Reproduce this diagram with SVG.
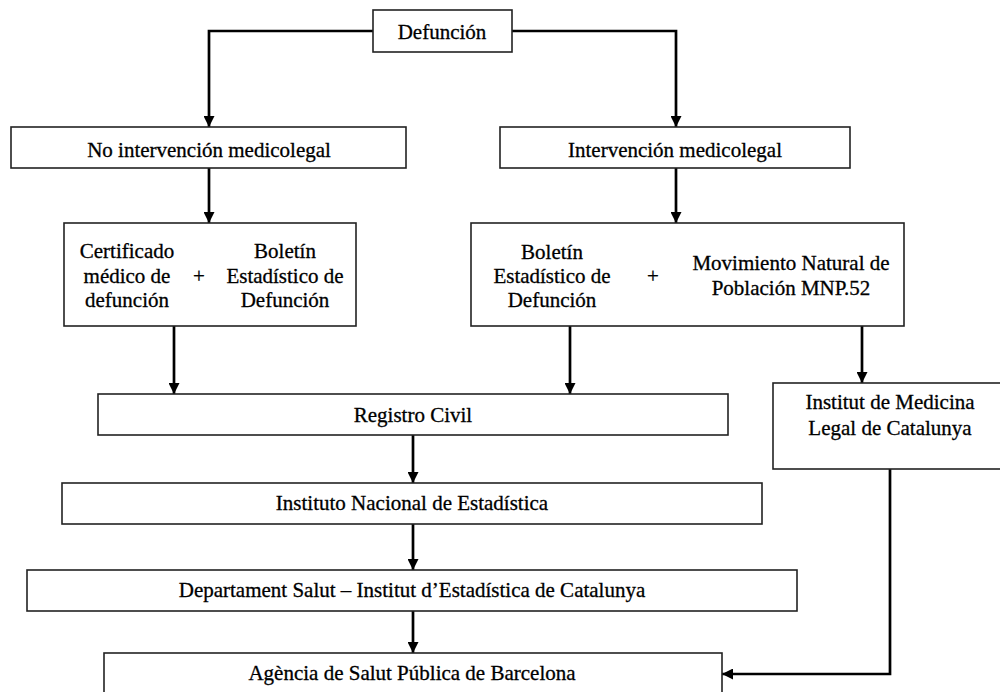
<svg xmlns="http://www.w3.org/2000/svg" width="1000" height="692" viewBox="0 0 1000 692">
<style>
.box{fill:#fff;stroke:#222;stroke-width:1.6}
.t{font-family:"Liberation Serif","Times New Roman",serif;font-size:21px;fill:#000;stroke:#000;stroke-width:0.3;text-anchor:middle}
.c{fill:none;stroke:#000;stroke-width:2.7}
</style>
<defs>
<marker id="ah" viewBox="0 0 10 10" refX="10" refY="5" markerWidth="11" markerHeight="11" markerUnits="userSpaceOnUse" orient="auto">
<path d="M0,0 L10,5 L0,10 z" fill="#000"/>
</marker>
</defs>
<rect width="1000" height="692" fill="#fff"/>
<g id="connectors">
<path class="c" d="M373,31 H209 V127" marker-end="url(#ah)"/>
<path class="c" d="M512,31 H676 V127" marker-end="url(#ah)"/>
<path class="c" d="M209,168 V223" marker-end="url(#ah)"/>
<path class="c" d="M676,168 V223" marker-end="url(#ah)"/>
<path class="c" d="M174,326 V394" marker-end="url(#ah)"/>
<path class="c" d="M570,326 V394" marker-end="url(#ah)"/>
<path class="c" d="M862,326 V383" marker-end="url(#ah)"/>
<path class="c" d="M413,435 V483" marker-end="url(#ah)"/>
<path class="c" d="M413,524 V570" marker-end="url(#ah)"/>
<path class="c" d="M413,611 V653" marker-end="url(#ah)"/>
<path class="c" d="M890,469 V674 H722" marker-end="url(#ah)"/>
</g>
<g id="defuncion">
<rect class="box" x="373" y="10" width="139" height="42"/>
<text class="t" x="442" y="39">Defunción</text>
</g>
<g id="no-intervencion">
<rect class="box" x="11" y="127" width="395" height="41"/>
<text class="t" x="209" y="157">No intervención medicolegal</text>
</g>
<g id="intervencion">
<rect class="box" x="500" y="127" width="350" height="41"/>
<text class="t" x="675" y="157">Intervención medicolegal</text>
</g>
<g id="certificado-boletin">
<rect class="box" x="64" y="223" width="292" height="103"/>
<text class="t" x="127" y="258">Certificado</text>
<text class="t" x="127" y="283">médico de</text>
<text class="t" x="127" y="307">defunción</text>
<text class="t" x="199" y="283">+</text>
<text class="t" x="285" y="258">Boletín</text>
<text class="t" x="285" y="283">Estadístico de</text>
<text class="t" x="285" y="307">Defunción</text>
</g>
<g id="boletin-mnp">
<rect class="box" x="471" y="223" width="433" height="103"/>
<text class="t" x="552" y="259">Boletín</text>
<text class="t" x="552" y="283">Estadístico de</text>
<text class="t" x="552" y="307">Defunción</text>
<text class="t" x="653" y="283">+</text>
<text class="t" x="791" y="270">Movimiento Natural de</text>
<text class="t" x="791" y="295">Población MNP.52</text>
</g>
<g id="registro-civil">
<rect class="box" x="98" y="394" width="630" height="41"/>
<text class="t" x="413" y="422">Registro Civil</text>
</g>
<g id="institut-medicina">
<rect class="box" x="773" y="383" width="235" height="86"/>
<text class="t" x="890" y="409">Institut de Medicina</text>
<text class="t" x="890" y="435">Legal de Catalunya</text>
</g>
<g id="ine">
<rect class="box" x="62" y="483" width="700" height="41"/>
<text class="t" x="412" y="510">Instituto Nacional de Estadística</text>
</g>
<g id="departament">
<rect class="box" x="27" y="570" width="770" height="41"/>
<text class="t" x="412" y="597">Departament Salut – Institut d’Estadística de Catalunya</text>
</g>
<g id="agencia">
<rect class="box" x="104" y="653" width="618" height="50"/>
<text class="t" x="412" y="680">Agència de Salut Pública de Barcelona</text>
</g>
</svg>
